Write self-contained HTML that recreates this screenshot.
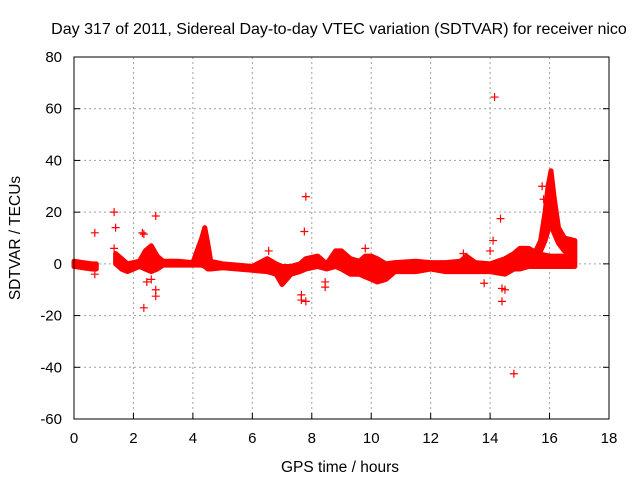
<!DOCTYPE html>
<html><head><meta charset="utf-8"><style>
body{margin:0;background:#fff}
svg{display:block;font-family:"Liberation Sans",sans-serif}
</style></head><body>
<svg id="c" width="640" height="480">
<text x="339" y="34" text-anchor="middle" font-size="16" fill="#000">Day 317 of 2011, Sidereal Day-to-day VTEC variation (SDTVAR) for receiver nico</text>
<text x="340" y="472" text-anchor="middle" font-size="15.5">GPS time / hours</text>
<text transform="translate(20,238) rotate(-90)" text-anchor="middle" font-size="15.5">SDTVAR / TECUs</text>
<g id="grid"></g><g id="marks"></g>
<rect x="74" y="57" width="535" height="362" fill="none" stroke="#000" stroke-width="1"/>
</svg>
<script>
const xTicks=[0,2,4,6,8,10,12,14,16,18];
const yTicks=[-60,-40,-20,0,20,40,60,80];
const bandX=[0,0.3,0.6,0.75,null,1.4,1.6,1.8,2.0,2.2,2.4,2.6,2.8,3.0,3.5,4.0,4.3,4.4,4.5,4.6,5.0,5.5,6.0,6.5,6.8,7.0,7.3,7.6,7.8,8.2,8.5,8.8,9.0,9.3,9.6,9.8,10.0,10.2,10.5,10.8,11.5,12.0,12.5,13.0,13.2,13.5,14.0,14.5,14.8,15.0,15.3,15.6,16.0,16.4,16.85];
const bandLo=[-1,-1.5,-2,-2,null,0,-2,-3,-2,-1,-2,-3,-2,-0.5,-0.5,-0.5,-0.5,-1,-2,-2,-1.5,-2,-2.5,-3,-4,-8,-4,-3,-2,-1,-2,-1,-2,-4,-4,-5,-6,-7,-6,-3,-3,-2,-3,-3,-3,-3,-3,-4,-2,-2,-1,-1,-1,-1,-1];
const bandHi=[1,0.5,0,0,null,4,2,0,0.5,1,5,7,3,1,1,0.5,10,14,8,1,0,-0.5,-1,2,0,-1,-1,0,2,3,0,5,5,2,1,3,3,2,0,0.5,1,0.5,0.5,1,3,0.5,0,2,4,6,6,4,3,3,3];
const armX=[15.5,15.7,15.85,15.95,16.05,16.15,16.3,16.5,16.85];
const armLo=[2,5,9,13,15,12,8,5,3];
const armHi=[4,9,20,30,36,26,14,10,9];
const outX=[0.7,0.7,1.35,1.4,1.35,2.3,2.35,2.35,2.75,2.75,2.75,2.45,2.6,7.8,7.75,7.65,7.65,7.8,8.45,8.45,14.15,14.35,14.1,14.0,13.8,14.4,14.4,14.8,6.55,9.8,15.75,15.8,13.1,14.5];
const outY=[12,-4,20,14,6,12,11.5,-17,18.5,-10,-12.5,-7,-6,26,12.5,-12,-14,-14.5,-9,-7,64.5,17.5,9,5,-7.5,-9.5,-14.5,-42.5,5,6,30,25,4,-10];
const X=v=>74+v*(535/18), Y=v=>419-(v+60)*(362/140);
const NS="http://www.w3.org/2000/svg";
const g=document.getElementById('grid'), m=document.getElementById('marks');
function el(t,a,p){const e=document.createElementNS(NS,t);for(const k in a)e.setAttribute(k,a[k]);p.appendChild(e);return e;}
xTicks.forEach(t=>{
 if(t>0&&t<18){const l=el('line',{x1:X(t),x2:X(t),y1:57,y2:419,stroke:'#a0a0a0','stroke-dasharray':'2,3'},g);
 
 }
 const tk=el('line',{x1:X(t),x2:X(t),y1:419,y2:413,stroke:'#000'},g);
 
 
 const tx=el('text',{x:X(t),y:443,'text-anchor':'middle','font-size':'15'},g);tx.textContent=t;
 
 
});
yTicks.forEach(t=>{
 if(t>-60&&t<80){const l=el('line',{x1:74,x2:609,y1:Y(t),y2:Y(t),stroke:'#a0a0a0','stroke-dasharray':'2,3'},g);
 
 }
 el('line',{x1:74,x2:80,y1:Y(t),y2:Y(t),stroke:'#000'},g);
 el('line',{x1:603,x2:609,y1:Y(t),y2:Y(t),stroke:'#000'},g);
 const tx=el('text',{x:62,y:Y(t)+5,'text-anchor':'end','font-size':'15'},g);tx.textContent=t;
 
 
});
function band(xs,lo,hi,name){
 let seg=[];const segs=[];
 xs.forEach((x,i)=>{if(x===null){if(seg.length)segs.push(seg);seg=[];}else seg.push(i);});
 if(seg.length)segs.push(seg);
 segs.forEach(s=>{
  const pts=s.map(i=>X(xs[i])+','+Y(hi[i])).concat(s.slice().reverse().map(i=>X(xs[i])+','+Y(lo[i])));
  const p=el('polygon',{points:pts.join(' '),fill:'#ff0000',stroke:'#ff0000','stroke-width':'5','stroke-linejoin':'round'},m);
  
  
 });
}
band(bandX,bandLo,bandHi,'sdtvar-band');
band(armX,armLo,armHi,'sdtvar-peak-arm');
outX.forEach((x,i)=>{
 const cx=X(x),cy=Y(outY[i]);
 const p=el('path',{d:`M${cx-4},${cy}H${cx+4}M${cx},${cy-4}V${cy+4}`,stroke:'#ff0000','stroke-width':'1.2',fill:'none'},m);
 
 
});
</script>
</body></html>
